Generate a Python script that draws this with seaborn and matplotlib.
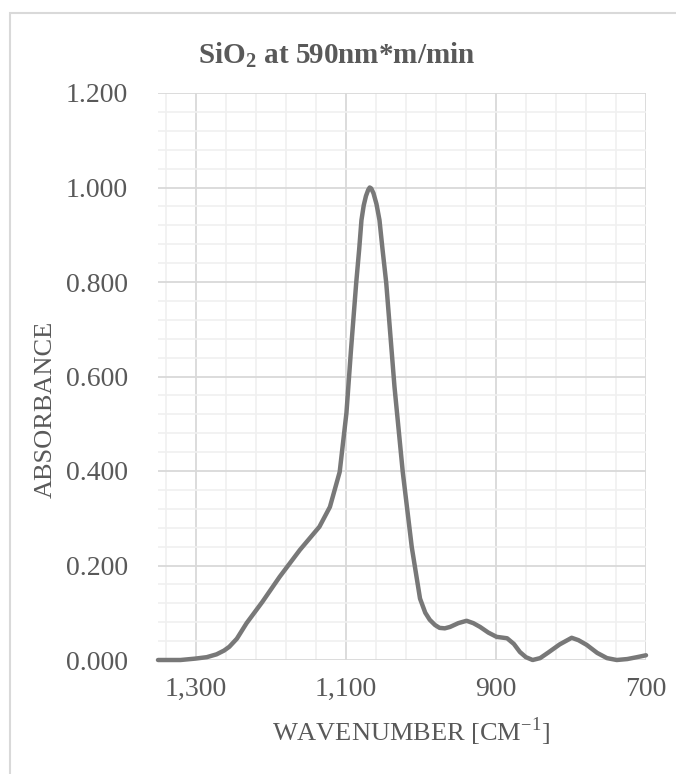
import numpy as np
import pandas as pd
import seaborn as sns
import matplotlib.pyplot as plt
from matplotlib.ticker import FuncFormatter
from matplotlib.patches import Rectangle

# spectrum
wavenumber = [1350, 1320, 1300, 1285, 1272, 1262, 1255, 1245, 1232, 1211,
              1188, 1161, 1135, 1121, 1108, 1099, 1093, 1086, 1082, 1079,
              1076, 1073, 1070, 1068, 1066, 1063, 1059, 1055, 1051, 1046,
              1035, 1024, 1012, 1001, 994, 988, 981, 975, 968, 961,
              950, 939, 930, 921, 910, 899, 885, 876, 868, 860,
              851, 841, 830, 815, 799, 790, 779, 765, 752, 739,
              725, 712, 700]
absorbance = [0.000, 0.000, 0.003, 0.006, 0.012, 0.020, 0.028, 0.045, 0.078, 0.123,
              0.176, 0.233, 0.282, 0.324, 0.398, 0.523, 0.655, 0.798, 0.870, 0.931,
              0.962, 0.982, 0.995, 1.000, 0.998, 0.988, 0.965, 0.931, 0.870, 0.798,
              0.578, 0.398, 0.239, 0.130, 0.100, 0.085, 0.074, 0.068, 0.067, 0.070,
              0.078, 0.083, 0.078, 0.070, 0.058, 0.049, 0.046, 0.034, 0.017, 0.006,
              0.000, 0.004, 0.016, 0.033, 0.047, 0.042, 0.032, 0.015, 0.004, 0.000,
              0.002, 0.006, 0.010]

x_ticks = [1300, 1100, 900, 700]
y_ticks = [0.0, 0.2, 0.4, 0.6, 0.8, 1.0, 1.2]

df = pd.DataFrame({"wavenumber": wavenumber, "absorbance": absorbance})

sns.set_theme(style="white")
plt.rcParams["font.family"] = ["Liberation Serif", "DejaVu Serif"]
plt.rcParams["mathtext.fontset"] = "custom"
plt.rcParams["mathtext.rm"] = "Liberation Serif"
plt.rcParams["mathtext.bf"] = "Liberation Serif:bold"

text_col = "#595959"

fig = plt.figure(figsize=(6.76, 7.74), dpi=100)
W, H = 676, 774
ax = fig.add_axes([158 / W, 1 - 660 / H, (646 - 158) / W, (660 - 93) / H])

# chart border
fig.patches.append(Rectangle((10 / W, -0.1), 1.2, 1 - 13 / H + 0.1,
                             transform=fig.transFigure, fill=False,
                             edgecolor="#d9d9d9", linewidth=1.5))

sns.lineplot(data=df, x="wavenumber", y="absorbance", ax=ax,
             estimator=None, sort=False, color="#787878", linewidth=3.2,
             clip_on=False, zorder=5)

ax.set_xlim(1350, 700)
ax.set_ylim(0, 1.2)
ax.set_xticks(x_ticks)
ax.set_xticks(np.arange(700, 1351, 40), minor=True)
ax.set_yticks(y_ticks)
ax.set_yticks(np.arange(0, 1.2001, 0.04), minor=True)
ax.xaxis.set_major_formatter(FuncFormatter(lambda v, p: f"{v:,.0f}"))
ax.yaxis.set_major_formatter(FuncFormatter(lambda v, p: f"{v:.3f}"))

ax.grid(which="major", color="#d9d9d9", linewidth=1.3)
ax.grid(which="minor", color="#f0f0f0", linewidth=1.2)
ax.set_axisbelow(True)
for s in ax.spines.values():
    s.set_visible(False)

ax.tick_params(axis="both", which="both", length=0, labelsize=20,
               labelcolor=text_col)
ax.tick_params(axis="x", pad=12)
ax.tick_params(axis="y", pad=21.6)

ax.set_xlabel(r"WAVENUMBER [CM$^{\mathrm{-1}}$]", fontsize=19, color=text_col,
              va="baseline")
ax.set_ylabel("ABSORBANCE", fontsize=19, color=text_col, va="baseline")
ax.xaxis.set_label_coords(0.518, -0.143)
ax.yaxis.set_label_coords(-0.217, 0.442)

fig.text(337 / W, 1 - 63 / H, r"SiO$_\mathbf{2}$ at 590nm*m/min",
         ha="center", va="baseline", fontsize=21, fontweight="bold",
         color=text_col)

fig.savefig("out.png", dpi=100)
